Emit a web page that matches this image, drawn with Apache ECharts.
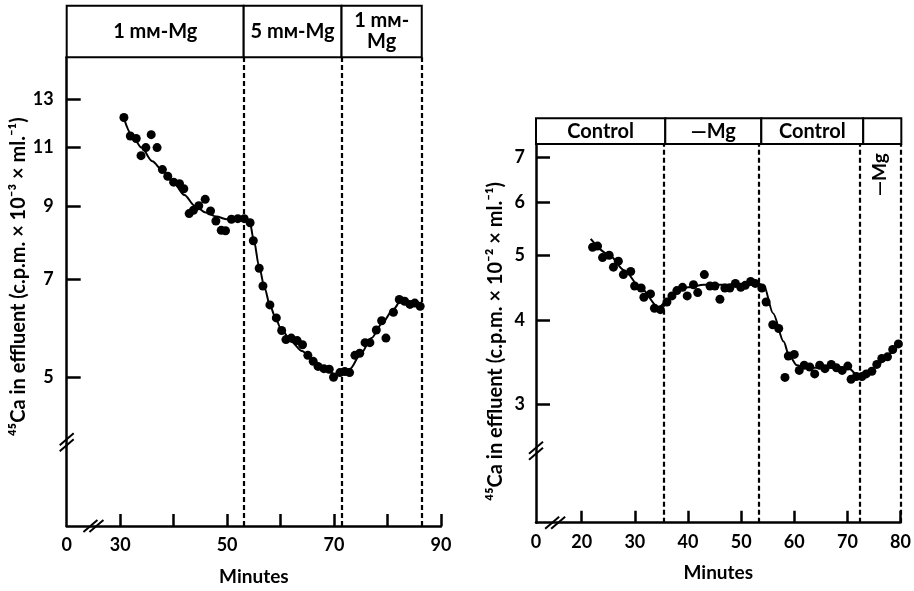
<!DOCTYPE html>
<html><head><meta charset="utf-8">
<script src="https://cdn.jsdelivr.net/npm/echarts@6/dist/echarts.min.js"></script>
<style>html,body{margin:0;padding:0;background:#fff}#c{width:914px;height:591px}</style>
</head><body><div id="c"></div>
<script>
// ---------- data ----------
// Left panel: 45Ca efflux (c.p.m. x 10^-3 x ml^-1) vs minutes
const leftX = [30.7,31.9,33.0,33.9,34.8,35.8,36.9,37.9,38.9,40.0,41.1,41.9,42.9,43.7,44.7,45.9,46.9,47.9,48.9,49.7,50.8,52.0,53.2,54.3,54.9,56.0,56.7,58.0,59.2,60.2,61.0,62.0,63.1,64.1,65.1,66.1,67.0,68.1,69.1,69.9,71.1,72.0,72.9,73.9,74.8,75.8,76.7,77.9,78.9,79.7,81.1,82.2,83.2,84.2,85.1,86.1];
const leftY = [12.2,11.45,11.35,10.7,11.0,11.5,11.0,10.2,9.97,9.77,9.72,9.55,8.77,8.87,9.01,9.21,8.85,8.55,8.28,8.27,8.6,8.62,8.62,8.5,7.99,7.27,6.84,6.41,6.13,5.87,5.69,5.72,5.67,5.59,5.39,5.28,5.19,5.15,5.14,5.0,5.08,5.1,5.08,5.39,5.43,5.63,5.63,5.88,6.07,5.72,6.25,6.53,6.49,6.42,6.45,6.38];
const leftCurveX = [30.8,32,34,36,38,40,42,44,46,48,50,52,54.2,55,56,57,58,59,60,62,64,66,68,70,71.5,73,75,77,79,81,82.5,84,86.3];
const leftCurveY = [12.1,11.55,11.0,10.5,10.15,9.75,9.35,9.0,8.8,8.68,8.6,8.56,8.55,8.0,7.3,6.8,6.4,6.15,5.92,5.65,5.47,5.3,5.17,5.06,5.05,5.15,5.42,5.72,6.02,6.3,6.5,6.45,6.38];
const leftPhaseNames = ['1 mᴍ-Mg','5 mᴍ-Mg','1 mᴍ-\nMg'];
const leftPhaseBounds = [20,53.1,71.4,86.4];
const leftDashes = [53.1,71.4,86.4];
const leftTickY = [5,7,9,11,13];
const leftTickX = [30,40,50,60,70,80,90];
const leftLabelX = [20,30,50,70,90];

// Right panel: 45Ca efflux (c.p.m. x 10^-2 x ml^-1) vs minutes
const rightX = [22.05,22.99,23.92,25.17,25.97,26.9,27.84,29.22,29.96,31.19,31.7,32.95,33.69,34.81,36.04,36.98,37.91,38.97,39.85,41.03,41.83,43.08,44.14,45.07,46.01,46.94,47.87,48.92,49.93,50.78,51.79,52.65,53.9,54.7,55.95,57.07,58.25,58.88,60.0,60.93,61.87,62.91,63.84,64.78,65.78,66.96,67.95,69.01,70.07,70.69,71.68,72.74,73.54,74.6,75.53,76.47,77.54,78.53,79.59];
const rightY = [5.14,5.16,4.96,5.0,4.8,4.9,4.68,4.73,4.5,4.47,4.33,4.38,4.17,4.15,4.26,4.35,4.43,4.48,4.35,4.52,4.4,4.68,4.5,4.5,4.3,4.47,4.47,4.54,4.48,4.51,4.57,4.54,4.47,4.26,3.94,3.89,3.29,3.54,3.56,3.37,3.43,3.41,3.33,3.43,3.39,3.44,3.4,3.37,3.42,3.27,3.3,3.3,3.33,3.36,3.44,3.51,3.53,3.62,3.69];
const rightCurveX = [21.7,25,28,31,34.5,36,38,40,43,46,50,53,54.3,56,58,59,60.5,62,66,70,72.3,74,76,78,79.8];
const rightCurveY = [5.29,5.02,4.75,4.48,4.18,4.28,4.42,4.48,4.52,4.52,4.53,4.55,4.5,4.1,3.72,3.55,3.43,3.40,3.40,3.40,3.30,3.33,3.45,3.57,3.70];
const rightPhaseNames = ['Control','—Mg','Control',''];
const rightPhaseBounds = [11.4,35.5,53.4,72.4,79.5];
const rightDashes = [35.5,53.4,72.4,80];
const rightTickY = [3,4,5,6,7];
const rightTickX = [20,30,40,50,60,70,80];
const rightLabelX = [11.4,20,30,40,50,60,70,80];
const rightSideLabel = '—Mg';

// ---------- chart ----------
const FONT = "Lato, 'DejaVu Sans', sans-serif";
const BLK = '#000';
const chart = echarts.init(document.getElementById('c'), null, {renderer:'canvas'});
const pairs = (xs, ys) => xs.map((x,i)=>[x, ys[i]]);
const txt = (size, extra) => Object.assign({color:BLK, fontFamily:FONT, fontWeight:'bold', fontSize:size}, extra||{});

function xAxisMain(grid, min, max, ticks, labels, zeroBelow){
  return {gridIndex:grid, type:'value', min:min, max:max,
    axisLine:{show:true, lineStyle:{color:BLK, width:2.5}},
    axisTick:{show:true, inside:true, length:12, customValues:ticks, lineStyle:{color:BLK, width:2.5}},
    axisLabel:{show:true, customValues:labels, margin:10, formatter:v => v < zeroBelow ? '0' : String(Math.round(v)), ...txt(18)},
    splitLine:{show:false},
    name:'Minutes', nameLocation:'middle', nameGap:41, nameTextStyle:txt(19)};
}
function yAxisMain(grid, min, max, ticks, name, pad, gap, margin){
  return {gridIndex:grid, type:'log', min:min, max:max,
    axisLine:{show:true, lineStyle:{color:BLK, width:2.5}},
    axisTick:{show:true, inside:true, length:14, customValues:ticks, lineStyle:{color:BLK, width:2.5}},
    axisLabel:{show:true, customValues:ticks, margin:margin, formatter:v => String(Math.round(v)), ...txt(18)},
    minorTick:{show:false}, splitLine:{show:false}, minorSplitLine:{show:false},
    name:name, nameLocation:'middle', nameGap:gap, nameTextStyle:txt(20, {padding:pad})};
}
function hiddenAxis(grid, min, max){
  return {gridIndex:grid, type:'value', min:min, max:max, show:false};
}
function headerSeries(xi, yi, names, bounds){
  return {type:'line', xAxisIndex:xi, yAxisIndex:yi, data:[[bounds[0],0]], showSymbol:false, lineStyle:{width:0}, silent:true,
    markArea:{silent:true,
      itemStyle:{color:'#fff', borderColor:BLK, borderWidth:2},
      label:{show:true, position:'inside', ...txt(20, {lineHeight:21, align:'center'})},
      data:names.map((n,i)=>[{name:n, xAxis:bounds[i]},{xAxis:bounds[i+1]}])}};
}
function dashLines(vals){
  return {silent:true, symbol:['none','none'], label:{show:false},
    lineStyle:{color:BLK, width:2.2, type:[5,3]},
    data:vals.map(v=>({xAxis:v}))};
}

const option = {
  animation:false,
  backgroundColor:'#fff',
  grid:[
    {left:66.7, right:473, top:57.3, bottom:64.3},
    {left:66.7, right:473, top:5.7, bottom:533.7},
    {left:536, right:10, top:144, bottom:68.3},
    {left:536, right:10, top:118.3, bottom:447}
  ],
  xAxis:[
    xAxisMain(0, 20, 90, leftTickX, leftLabelX, 25),
    hiddenAxis(1, 20, 90),
    xAxisMain(2, 11.4, 80, rightTickX, rightLabelX, 15),
    hiddenAxis(3, 11.4, 80)
  ],
  yAxis:[
    yAxisMain(0, 3, 15, leftTickY, '⁴⁵Ca in effluent (c.p.m. × 10⁻³ × ml.⁻¹)', [0,0,0,30], 38, 13),
    hiddenAxis(1, 0, 1),
    yAxisMain(2, 2, 7.32, rightTickY, '⁴⁵Ca in effluent (c.p.m. × 10⁻² × ml.⁻¹)', [0,16,0,0], 30, 11),
    hiddenAxis(3, 0, 1)
  ],
  series:[
    {type:'line', xAxisIndex:0, yAxisIndex:0, data:pairs(leftCurveX,leftCurveY), smooth:0.3, smoothMonotone:'x', showSymbol:false, lineStyle:{color:BLK, width:2}, silent:true, z:2},
    {type:'scatter', xAxisIndex:0, yAxisIndex:0, data:pairs(leftX,leftY), symbolSize:9, itemStyle:{color:BLK, opacity:1}, z:3,
      markLine:dashLines(leftDashes)},
    headerSeries(1, 1, leftPhaseNames, leftPhaseBounds),
    {type:'line', xAxisIndex:2, yAxisIndex:2, data:pairs(rightCurveX,rightCurveY), smooth:0.3, smoothMonotone:'x', showSymbol:false, lineStyle:{color:BLK, width:2}, silent:true, z:2},
    {type:'scatter', xAxisIndex:2, yAxisIndex:2, data:pairs(rightX,rightY), symbolSize:9, itemStyle:{color:BLK, opacity:1}, z:3,
      markLine:dashLines(rightDashes)},
    headerSeries(3, 3, rightPhaseNames, rightPhaseBounds)
  ]
};
chart.setOption(option);

// axis-break marks and rotated side label, positioned through the chart's own scales
function breakMark(p, vertical){
  const d = 3;
  const off = vertical ? [[0,-d],[0,d]] : [[-d,0],[d,0]];
  return {type:'group', x:p[0], y:p[1], z:50, children: off.map(o=>({type:'line',
    shape:{x1:o[0]-7, y1:o[1]+6, x2:o[0]+7, y2:o[1]-6}, style:{stroke:BLK, lineWidth:2}}))};
}
const g = [];
g.push(breakMark(chart.convertToPixel({gridIndex:0}, [20, 4]), true));
g.push(breakMark(chart.convertToPixel({gridIndex:0}, [25, 3]), false));
g.push(breakMark(chart.convertToPixel({gridIndex:2}, [11.4, 2.56]), true));
g.push(breakMark(chart.convertToPixel({gridIndex:2}, [15, 2]), false));
const sp = chart.convertToPixel({gridIndex:2}, [76.2, 6.59]);
g.push({type:'text', x:sp[0], y:sp[1], rotation:Math.PI/2, z:50,
  style:{text:rightSideLabel, fill:BLK, font:"bold 19px " + FONT, align:'center', verticalAlign:'middle'}});
chart.setOption({graphic:g});
</script></body></html>
